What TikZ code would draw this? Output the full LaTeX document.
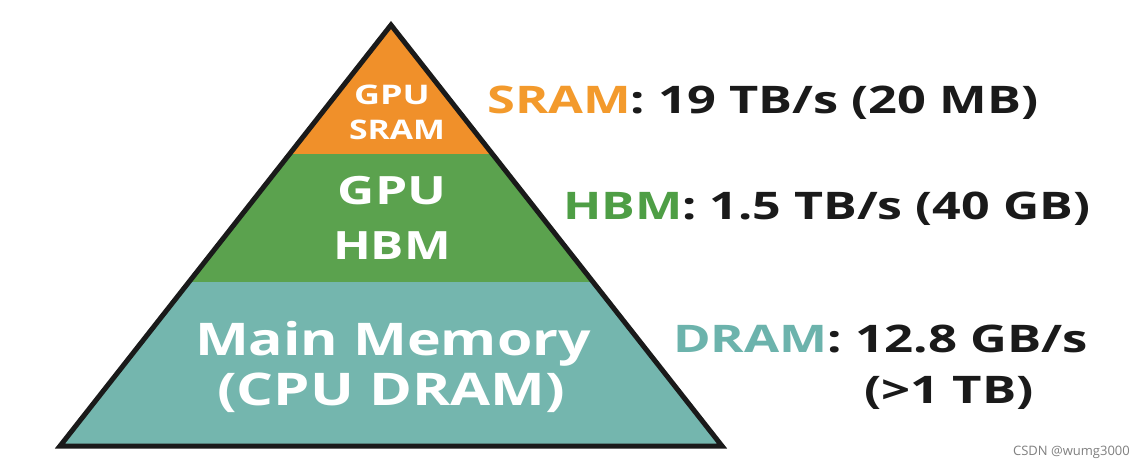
\documentclass[tikz,border=0pt]{standalone}
\usepackage{fontspec}
\setmainfont{Open Sans}
\definecolor{sramc}{HTML}{F0902A}
\definecolor{hbmc}{HTML}{5BA24E}
\definecolor{dramc}{HTML}{74B6AE}
\definecolor{sramt}{HTML}{F39A2C}
\definecolor{hbmt}{HTML}{4E9E45}
\definecolor{dramt}{HTML}{6CB3AC}
\definecolor{txt}{HTML}{1A1A1A}
\newcommand{\wide}[2]{\scalebox{#1}[1]{#2}}
\tikzset{
  intext/.style={text=white, inner sep=0pt, anchor=base},
  rlabel/.style={text=txt, font=\bfseries\fontsize{38}{40}\selectfont, inner sep=0pt, anchor=base west},
}
\begin{document}
\begin{tikzpicture}[x=1pt,y=-1pt]
\useasboundingbox[fill=white] (0,0) rectangle (1146,465);
\coordinate (A) at (391,25);
\coordinate (L) at (60,446);
\coordinate (R) at (722,446);
\begin{scope}
  \clip (A) -- (L) -- (R) -- cycle;
  \fill[sramc] (0,0) rectangle (1146,154);
  \fill[hbmc] (0,154) rectangle (1146,282);
  \fill[dramc] (0,282) rectangle (1146,465);
\end{scope}
\draw[line width=5pt, line join=miter, color=txt] (A) -- (L) -- (R) -- cycle;

\node[intext, font=\bfseries\fontsize{27}{29}\selectfont] (g1) at (392,105) {\wide{1.33}{GPU}};
\node[intext, font=\bfseries\fontsize{27}{29}\selectfont] (s1) at (397,140) {\wide{1.25}{SRAM}};
\node[intext, font=\bfseries\fontsize{39}{42}\selectfont] (g2) at (392,205) {\wide{1.32}{GPU}};
\node[intext, font=\bfseries\fontsize{39}{42}\selectfont] (h2) at (392,259) {\wide{1.27}{HBM}};
\node[intext, font=\bfseries\fontsize{45}{48}\selectfont] (m3) at (393,355) {\wide{1.27}{Main Memory}};
\node[intext, font=\bfseries\fontsize{45}{48}\selectfont] (c3) at (391,405) {\wide{1.29}{(CPU DRAM)}};

\node[rlabel] (l1) at (487,114) {\wide{1.33}{\textcolor{sramt}{SRAM}: 19 TB/s (20 MB)}};
\node[rlabel] (l2) at (563,220) {\wide{1.32}{\textcolor{hbmt}{HBM}: 1.5 TB/s (40 GB)}};
\node[rlabel] (l3) at (673,352) {\wide{1.34}{\textcolor{dramt}{DRAM}: 12.8 GB/s}};
\node[rlabel, anchor=base] (l4) at (949,403) {\wide{1.34}{(>1 TB)}};

\node[text=gray, font=\fontsize{13}{14}\selectfont, anchor=base east, inner sep=0pt] (wm) at (1130,455) {CSDN @wumg3000};
\end{tikzpicture}
\end{document}
